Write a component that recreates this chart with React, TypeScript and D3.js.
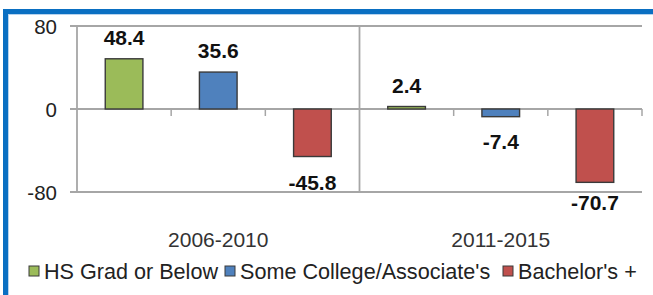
import React from "react";
import * as d3 from "d3";

const periods = ["2006-2010", "2011-2015"];
const groups = ["HS Grad or Below", "Some College/Associate's", "Bachelor's +"];
const values2006 = [48.4, 35.6, -45.8];
const values2011 = [2.4, -7.4, -70.7];
const colors = ["#9BBB59", "#4F81BD", "#C0504D"];
const yTicks = [80, 0, -80];
const labelOffsetsPos = [21, 22, 21];
const labelOffsetsNeg2006 = [0, 0, 26];
const labelOffsetsNeg2011 = [0, 25, 20];

const W = 653;
const H = 295;

export default function App() {
  const seriesByPeriod = [values2006, values2011];
  const negOffsets = [labelOffsetsNeg2006, labelOffsetsNeg2011];
  const x0 = d3.scaleBand<string>().domain(periods).range([77, 642]).padding(0);
  const x1 = d3
    .scaleBand<string>()
    .domain(groups)
    .range([0, x0.bandwidth()])
    .paddingInner(0.6)
    .paddingOuter(0.3);
  const y = d3.scaleLinear().domain([-80, 80]).range([192, 26]);
  const step = x1.step();
  const font = "'Liberation Sans', Arial, sans-serif";
  const gridColor = "#A6A6A6";

  const tickXs: number[] = [];
  periods.forEach((p, pi) => {
    for (let k = 1; k <= 3; k++) {
      const xv = (x0(p) as number) + k * step;
      if (!(pi === 0 && k === 3)) tickXs.push(xv);
    }
  });

  const legendX = [29, 225, 503];

  return (
    <div style={{ position: "absolute", left: 0, top: 0 }}>
      <svg width={W} height={H} style={{ display: "block", background: "#fff" }}>
        {/* frame */}
        <rect x={3} y={9} width={W - 3} height={5} fill="#0A6FC2" />
        <rect x={3} y={9} width={5} height={H - 9} fill="#0A6FC2" />
        <rect x={8} y={14} width={W - 8} height={1} fill="#B7D3EE" />
        <rect x={8} y={14} width={1} height={H - 14} fill="#B7D3EE" />

        {/* gridlines */}
        {yTicks.map((t) => (
          <line
            key={"g" + t}
            x1={70}
            x2={642}
            y1={y(t)}
            y2={y(t)}
            stroke={gridColor}
            strokeWidth={1.8}
          />
        ))}
        {/* y axis */}
        <line x1={77} x2={77} y1={y(80)} y2={y(-80)} stroke={gridColor} strokeWidth={1.8} />
        {/* divider */}
        <line
          x1={x0(periods[1]) as number}
          x2={x0(periods[1]) as number}
          y1={y(80)}
          y2={y(-80)}
          stroke={gridColor}
          strokeWidth={1.8}
        />
        {/* category ticks */}
        {tickXs.map((tx, i) => (
          <line key={"t" + i} x1={tx} x2={tx} y1={y(0)} y2={y(0) + 7} stroke={gridColor} strokeWidth={1.5} />
        ))}
        {/* y tick labels */}
        {yTicks.map((t) => (
          <text
            key={"yl" + t}
            x={57}
            y={y(t)}
            textAnchor="end"
            dominantBaseline="central"
            fontFamily={font}
            fontSize={20.5}
            fill="#222"
          >
            {t}
          </text>
        ))}

        {/* bars */}
        {periods.map((p, pi) =>
          seriesByPeriod[pi].map((v, gi) => {
            const bx = (x0(p) as number) + (x1(groups[gi]) as number);
            const top = y(Math.max(0, v));
            const bot = y(Math.min(0, v));
            const lx = bx + x1.bandwidth() / 2;
            const ly = v >= 0 ? top - labelOffsetsPos[gi] : bot + negOffsets[pi][gi];
            return (
              <g key={p + gi}>
                <rect
                  x={bx}
                  y={top}
                  width={x1.bandwidth()}
                  height={Math.max(0.5, bot - top)}
                  fill={colors[gi]}
                  stroke="#3A3A3A"
                  strokeWidth={1.4}
                />
                <text
                  x={lx}
                  y={ly}
                  textAnchor="middle"
                  dominantBaseline="central"
                  fontFamily={font}
                  fontWeight="bold"
                  fontSize={21}
                  fill="#111"
                >
                  {v.toFixed(1)}
                </text>
              </g>
            );
          })
        )}

        {/* category labels */}
        {periods.map((p) => (
          <text
            key={"c" + p}
            x={(x0(p) as number) + x0.bandwidth() / 2}
            y={239}
            textAnchor="middle"
            dominantBaseline="central"
            fontFamily={font}
            fontSize={21}
            fill="#333"
          >
            {p}
          </text>
        ))}

        {/* legend */}
        {groups.map((g, gi) => (
          <g key={"lg" + g}>
            <rect
              x={legendX[gi]}
              y={266}
              width={10}
              height={10}
              fill={colors[gi]}
              stroke="#3A3A3A"
              strokeWidth={1}
            />
            <text
              x={legendX[gi] + 15}
              y={271}
              dominantBaseline="central"
              fontFamily={font}
              fontSize={21.6}
              fill="#222"
            >
              {g}
            </text>
          </g>
        ))}
      </svg>
    </div>
  );
}
